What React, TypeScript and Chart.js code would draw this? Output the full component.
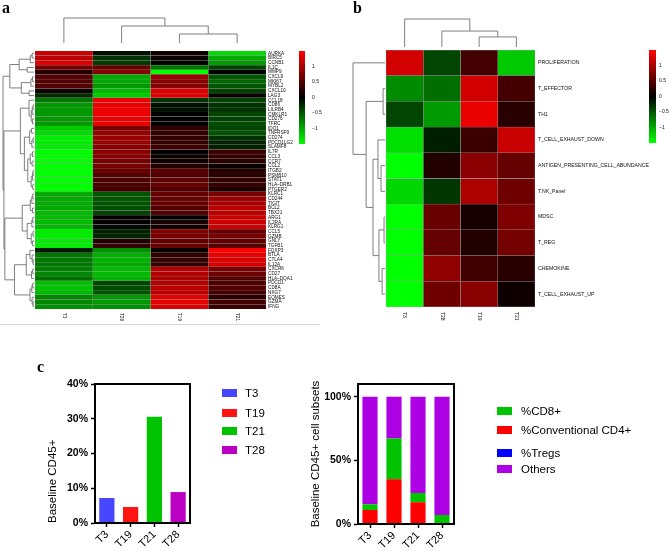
import React, { useEffect, useRef } from 'react';
import Chart from 'chart.js/auto';

// ---------------- DATA ----------------
const GENES = ['AURKA', 'BIRC5', 'CCNB1', 'IL1C', 'MMP9', 'CXCL9', 'MKI67', 'MYBL2', 'CXCL10', 'LAG3',
  'CCL18', 'CD86', 'LILRB4', 'CMKLR1', 'CD276', 'TFRC', 'IDO1', 'TNFRSF9', 'CD274', 'PDCD1LG2', 'SLAMF8',
  'IL7R', 'CCL3', 'CCR7', 'CCL2', 'ITGB2', 'PSMB10', 'STAT1', 'HLA\u2013DRB1', 'PTGER2',
  'KLRC1', 'CD244', 'TIGIT', 'BCL2', 'TBX21', 'ARG1', 'IL2RA', 'KLRG1', 'CCL5', 'GZMB', 'GNLY', 'TGFB1',
  'FOXP3', 'BTLA', 'CTLA4', 'IL12A', 'CXCR6', 'CD27', 'HLA\u2013DQA1', 'PDCD1', 'CD8A', 'NKG7', 'EOMES', 'GZMA', 'IFNG'];
const HEAT_COLUMNS = ['T3', 'T28', 'T19', 'T21'];
const A_T3 = [1.2, 1.1, 1.3, 0.7, 0.2, 0.5, 0.5, 0.5, 0.1, -0.25,
  -0.7, -0.9, -0.9, -0.9, -0.9, -0.9, -1.2, -1.3, -1.4, -1.4, -1.4,
  -1.5, -1.5, -1.5, -1.5, -1.5, -1.5, -1.5, -1.5, -1.5,
  -1.0, -1.0, -1.0, -1.0, -1.1, -1.1, -1.1, -1.1, -1.4, -1.4, -1.4, -1.4,
  -0.15, -0.7, -0.7, -0.7, -0.75, -0.8, -0.65, -1.15, -1.15, -1.1, -0.8, -0.8, -0.85];
const A_T28 = [-0.1, -0.3, -0.35, 0.6, 0.8, -1.0, -1.0, -0.9, -1.1, -1.2,
  1.4, 1.4, 1.4, 1.4, 1.4, 1.35, 0.7, 0.9, 0.9, 0.9, 0.8,
  0.8, 0.8, 0.7, 0.7, 0.6, 0.5, 0.45, 0.45, 0.4,
  -0.5, -0.5, -0.5, -0.45, -0.4, 0.05, 0.0, -0.05, -0.2, -0.2, 0.2, 0.3,
  -0.85, -1.05, -1.05, -1.0, -1.1, -1.1, -1.05, -0.4, -0.45, -0.5, -0.9, -0.9, -0.85];
const A_T19 = [0.1, 0.05, 0.0, -0.7, -1.5, 0.9, 0.8, 0.8, 1.3, 1.3,
  -0.3, -0.1, -0.1, 0.0, 0.0, 0.0, 0.3, 0.3, 0.3, 0.3, 0.4,
  0.0, 0.05, 0.1, 0.2, 0.5, 0.5, 0.55, 0.6, 0.5,
  0.6, 0.6, 0.6, 0.5, 0.5, 0.0, 0.15, 0.1, 0.75, 0.7, 0.6, 0.6,
  0.05, 0.3, 0.3, 0.3, 1.1, 1.05, 1.0, 1.05, 1.1, 1.1, 1.35, 1.35, 1.3];
const A_T21 = [-1.3, -1.0, -0.9, -0.4, 0.0, -0.5, -0.6, -0.5, -0.4, 0.05,
  -0.4, -0.3, -0.3, -0.4, -0.4, -0.45, -0.4, -0.5, -0.3, -0.2, -0.2,
  0.35, 0.3, 0.25, 0.05, 0.2, 0.25, 0.3, 0.3, 0.2,
  0.7, 0.9, 1.0, 1.1, 1.1, 1.2, 1.2, 1.2, 0.6, 0.7, 0.6, 0.5,
  1.5, 1.35, 1.3, 1.25, 0.7, 0.65, 0.5, 0.45, 0.5, 0.4, 0.25, 0.4, 0.35];

type Tree = number | [Tree, Tree, number];
// row dendrogram of panel a: [left, right, merge height]
const ROW_TREE_A: Tree = [
  [[[[0, 1, 0.06], 2, 0.12], [3, 4, 0.22], 0.48], [[[5, 6, 0.05], 7, 0.1], [8, 9, 0.16], 0.41], 0.78],
  [
    [[10, [[[11, 12, 0.03], 13, 0.06], [14, 15, 0.05], 0.09], 0.16],
     [[[16, 17, 0.08], [[18, 19, 0.03], 20, 0.07], 0.14],
      [[[21, 22, 0.05], [23, 24, 0.06], 0.12], [[[25, 26, 0.03], 27, 0.05], [28, 29, 0.04], 0.09], 0.2], 0.31], 0.44],
    [[[[[30, 31, 0.04], 32, 0.07], [33, 34, 0.05], 0.12], [[[35, 36, 0.04], 37, 0.07], [[38, 39, 0.03], [40, 41, 0.05], 0.09], 0.22], 0.38],
     [[[42, [43, [44, 45, 0.03], 0.06], 0.13], [[46, 47, 0.04], 48, 0.08], 0.25],
      [[[49, 50, 0.04], 51, 0.07], [52, [53, 54, 0.03], 0.06], 0.13], 0.63], 0.94],
    0.97],
  1.0];
const COL_TREE_A: Tree = [0, [1, [2, 3, 0.36], 0.68], 1.0];

const SIGNATURES = ['PROLIFERATION', 'T_EFFECTOR', 'TH1', 'T_CELL_EXHAUST_DOWN', 'ANTIGEN_PRESENTING_CELL_ABUNDANCE',
  'T.NK_Panel', 'MDSC', 'T_REG', 'CHEMOKINE', 'T_CELL_EXHAUST_UP'];
const B_T3 = [1.24, -0.82, -0.41, -1.32, -1.5, -1.26, -1.5, -1.5, -1.5, -1.5];
const B_T28 = [-0.41, -0.65, -0.91, -0.18, 0.2, -0.32, 0.62, 0.59, 0.85, 0.65];
const B_T19 = [0.4, 1.24, 1.38, 0.35, 0.82, 1.03, 0.15, 0.2, 0.38, 0.8];
const B_T21 = [-1.18, 0.4, 0.24, 1.18, 0.59, 0.65, 0.74, 0.68, 0.24, 0.09];
const ROW_TREE_B: Tree = [0, [[1, 2, 0.06], [[3, [4, 5, 0.125], 0.22], [[6, 7, 0.03], [8, 9, 0.09], 0.19], 0.375], 0.59], 1.0];
const COL_TREE_B: Tree = [0, [1, [2, 3, 0.36], 0.57], 1.0];

const COLORBAR_TICKS = [1, 0.5, 0, -0.5, -1];
const COLOR_LIMIT = 1.5;

const PATIENTS = ['T3', 'T19', 'T21', 'T28'];
const CD45_PCT = [7.2, 4.6, 30.6, 8.9];
const TREGS = [0, 0, 0, 0];
const CONV_CD4 = [11.0, 35.2, 17.1, 0];
const CD8 = [4.5, 32.0, 7.3, 7.1];
const OTHERS = [84.5, 32.8, 75.6, 92.9];

// ---------------- STYLE ----------------
const SANS = '"Liberation Sans", Arial, Helvetica, sans-serif';
Chart.defaults.font.family = SANS;
Chart.defaults.color = '#000';

function heatColor(v: number) {
  const t = Math.min(1, Math.abs(v) / COLOR_LIMIT);
  const c = Math.round(255 * t);
  return v >= 0 ? `rgb(${c},0,0)` : `rgb(0,${c},0)`;
}

function drawDendro(ctx: CanvasRenderingContext2D, tree: Tree, leafPos: (i: number) => number,
  toPt: (p: number, d: number) => [number, number]) {
  const walk = (n: Tree): [number, number] => {
    if (typeof n === 'number') return [leafPos(n), 0];
    const [a, b, h] = n;
    const [p1, d1] = walk(a);
    const [p2, d2] = walk(b);
    ctx.beginPath();
    let q = toPt(p1, d1); ctx.moveTo(q[0], q[1]);
    q = toPt(p1, h); ctx.lineTo(q[0], q[1]);
    q = toPt(p2, h); ctx.lineTo(q[0], q[1]);
    q = toPt(p2, d2); ctx.lineTo(q[0], q[1]);
    ctx.stroke();
    return [(p1 + p2) / 2, h];
  };
  walk(tree);
}

interface HeatCfg {
  W: number; H: number;
  area: { left: number; top: number; right: number; bottom: number };
  rows: string[]; cols: string[]; columns: number[][];
  rowTree: Tree; colTree: Tree;
  rowDendro: { leafX: number; rootX: number };
  colDendro: { leafY: number; rootY: number };
  colorbar: { x: number; y: number; w: number; h: number; labelX: number };
  rowFont: string; colFont: string; cbFont: string;
  rowGap: number; colGap: number;
  gridColor: string; gridWidth: number;
  divider?: { y: number; x0: number; x1: number };
}

function makeHeatmap(canvas: HTMLCanvasElement, cfg: HeatCfg) {
  const decor = {
    id: 'heatDecor',
    afterDraw(chart: any) {
      const ctx: CanvasRenderingContext2D = chart.ctx;
      const xs = chart.scales.x, ys = chart.scales.y, ca = chart.chartArea;
      ctx.save();
      // row labels
      ctx.fillStyle = '#111';
      ctx.font = cfg.rowFont;
      ctx.textAlign = 'left';
      ctx.textBaseline = 'middle';
      cfg.rows.forEach((r, i) => ctx.fillText(r, ca.right + cfg.rowGap, ys.getPixelForValue(i)));
      // column labels (rotated)
      ctx.font = cfg.colFont;
      cfg.cols.forEach((c, j) => {
        ctx.save();
        ctx.translate(xs.getPixelForValue(j + 0.5), ca.bottom + cfg.colGap);
        ctx.rotate(Math.PI / 2);
        ctx.textAlign = 'left';
        ctx.textBaseline = 'middle';
        ctx.fillText(c, 0, 0);
        ctx.restore();
      });
      // dendrograms
      ctx.strokeStyle = '#707070';
      ctx.lineWidth = 0.9;
      const rd = cfg.rowDendro;
      drawDendro(ctx, cfg.rowTree, (i) => ys.getPixelForValue(i),
        (p, d) => [rd.leafX - d * (rd.leafX - rd.rootX), p]);
      const cd = cfg.colDendro;
      drawDendro(ctx, cfg.colTree, (j) => xs.getPixelForValue(j + 0.5),
        (p, d) => [p, cd.leafY - d * (cd.leafY - cd.rootY)]);
      // colour bar
      const cb = cfg.colorbar;
      const g = ctx.createLinearGradient(0, cb.y, 0, cb.y + cb.h);
      g.addColorStop(0, heatColor(COLOR_LIMIT));
      g.addColorStop(0.5, heatColor(0));
      g.addColorStop(1, heatColor(-COLOR_LIMIT));
      ctx.fillStyle = g;
      ctx.fillRect(cb.x, cb.y, cb.w, cb.h);
      ctx.fillStyle = '#111';
      ctx.font = cfg.cbFont;
      ctx.textAlign = 'left';
      ctx.textBaseline = 'middle';
      COLORBAR_TICKS.forEach((v) => {
        const y = cb.y + ((COLOR_LIMIT - v) / (2 * COLOR_LIMIT)) * cb.h;
        const txt = v === 0 ? '0' : v < 0 ? '\u2212' + Math.abs(v) : String(v);
        ctx.fillText(txt, cb.labelX, y);
      });
      if (cfg.divider) {
        ctx.strokeStyle = '#d6d6d6';
        ctx.lineWidth = 1;
        ctx.beginPath();
        ctx.moveTo(cfg.divider.x0, cfg.divider.y + 0.5);
        ctx.lineTo(cfg.divider.x1, cfg.divider.y + 0.5);
        ctx.stroke();
      }
      ctx.restore();
    },
  };
  return new Chart(canvas, {
    type: 'bar',
    data: {
      labels: cfg.rows,
      datasets: cfg.columns.map((vals, j) => ({
        label: cfg.cols[j],
        data: cfg.rows.map(() => 1),
        backgroundColor: vals.map(heatColor),
        borderColor: cfg.gridColor,
        borderWidth: cfg.gridWidth,
        borderSkipped: false,
        barPercentage: 1,
        categoryPercentage: 1,
      })),
    },
    options: {
      indexAxis: 'y',
      responsive: false,
      animation: false,
      events: [],
      layout: {
        padding: {
          left: cfg.area.left, top: cfg.area.top,
          right: cfg.W - cfg.area.right, bottom: cfg.H - cfg.area.bottom,
        },
      },
      plugins: { legend: { display: false }, tooltip: { enabled: false } },
      scales: {
        x: { type: 'linear', stacked: true, min: 0, max: cfg.cols.length, display: false },
        y: { stacked: true, display: false },
      },
    },
    plugins: [decor],
  } as any);
}

const boxPlugin = {
  id: 'prismBox',
  afterDraw(chart: any) {
    const { ctx, chartArea: ca } = chart;
    ctx.save();
    ctx.strokeStyle = '#000';
    ctx.lineWidth = 2;
    ctx.strokeRect(ca.left, ca.top, ca.right - ca.left, ca.bottom - ca.top);
    ctx.restore();
  },
};

function legendPlugin(getItems: (chart: any) => { label: string; color: string }[],
  pos: { x: number; textX: number; ys: number[] }) {
  return {
    id: 'sideLegend',
    afterDraw(chart: any) {
      const ctx: CanvasRenderingContext2D = chart.ctx;
      ctx.save();
      ctx.font = `11.5px ${SANS}`;
      ctx.textAlign = 'left';
      ctx.textBaseline = 'middle';
      getItems(chart).forEach((it, i) => {
        const y = pos.ys[i];
        ctx.fillStyle = it.color;
        ctx.fillRect(pos.x, y - 4, 15, 8);
        ctx.fillStyle = '#000';
        ctx.fillText(it.label, pos.textX, y + 0.5);
      });
      ctx.restore();
    },
  };
}

function axisCommon() {
  return {
    grid: { display: true, drawOnChartArea: false, drawTicks: true, tickLength: 4, tickColor: '#000', tickWidth: 1.5, offset: false },
    border: { display: true, color: '#000', width: 2 },
  };
}

const LEFT_COLORS = ['#4646ff', '#ff1414', '#00c400', '#bb00c4'];
const SUBSET_COLORS = { tregs: '#0000ff', cd4: '#ff0000', cd8: '#00c400', others: '#ad00e4' };

function makeCD45(canvas: HTMLCanvasElement) {
  return new Chart(canvas, {
    type: 'bar',
    data: {
      labels: PATIENTS,
      datasets: [{
        label: 'Baseline CD45+',
        data: CD45_PCT,
        backgroundColor: LEFT_COLORS,
        borderWidth: 0,
        barPercentage: 0.64,
        categoryPercentage: 1,
      }],
    },
    options: {
      responsive: false,
      animation: false,
      events: [],
      layout: { padding: { left: 42, top: 44, right: 100, bottom: 0 } },
      plugins: { legend: { display: false }, tooltip: { enabled: false } },
      scales: {
        x: {
          ...axisCommon(),
          ticks: { font: { size: 11 }, color: '#000', minRotation: 45, maxRotation: 45, autoSkip: false, padding: 1 },
          afterFit: (s: any) => { s.height = 28; },
        },
        y: {
          ...axisCommon(),
          min: 0, max: 40,
          ticks: { stepSize: 10, callback: (v: any) => v + '%', font: { size: 10.5, weight: 'bold' }, color: '#000', padding: 3 },
          title: { display: true, text: 'Baseline CD45+', align: 'start', font: { size: 11.5 }, color: '#000' },
          afterFit: (s: any) => { s.width = 53; },
        },
      },
    },
    plugins: [boxPlugin, legendPlugin((ch) => ch.data.labels.map((l: string, i: number) => ({
      label: l, color: ch.data.datasets[0].backgroundColor[i],
    })), { x: 222, textX: 245, ys: [53, 73, 91, 110] })],
  } as any);
}

function makeSubsets(canvas: HTMLCanvasElement) {
  const common = { borderWidth: 0, barPercentage: 0.63, categoryPercentage: 1 };
  return new Chart(canvas, {
    type: 'bar',
    data: {
      labels: PATIENTS,
      datasets: [
        { label: '%Tregs', data: TREGS, backgroundColor: SUBSET_COLORS.tregs, ...common },
        { label: '%Conventional CD4+', data: CONV_CD4, backgroundColor: SUBSET_COLORS.cd4, ...common },
        { label: '%CD8+', data: CD8, backgroundColor: SUBSET_COLORS.cd8, ...common },
        { label: 'Others', data: OTHERS, backgroundColor: SUBSET_COLORS.others, ...common },
      ],
    },
    options: {
      responsive: false,
      animation: false,
      events: [],
      layout: { padding: { left: 15, top: 44, right: 217, bottom: 0 } },
      plugins: { legend: { display: false }, tooltip: { enabled: false } },
      scales: {
        x: {
          ...axisCommon(),
          stacked: true,
          ticks: { font: { size: 11 }, color: '#000', minRotation: 45, maxRotation: 45, autoSkip: false, padding: 1 },
          afterFit: (s: any) => { s.height = 27; },
        },
        y: {
          ...axisCommon(),
          stacked: true,
          min: 0, max: 110,
          ticks: { stepSize: 50, includeBounds: false, callback: (v: any) => v + '%', font: { size: 10.5, weight: 'bold' }, color: '#000', padding: 3 },
          title: { display: true, text: 'Baseline CD45+ cell subsets', font: { size: 11.5 }, color: '#000' },
          afterFit: (s: any) => { s.width = 53; },
        },
      },
    },
    plugins: [boxPlugin, legendPlugin((ch) => ['%CD8+', '%Conventional CD4+', '%Tregs', 'Others'].map((name) => {
      const ds = ch.data.datasets.find((d: any) => d.label === name);
      return { label: name, color: ds.backgroundColor };
    }), { x: 207, textX: 231, ys: [71, 90, 113, 129] })],
  } as any);
}

const panelLabel = (left: number, top: number): React.CSSProperties => ({
  position: 'absolute', left, top, font: 'bold 16px "Liberation Serif", "DejaVu Serif", serif',
  lineHeight: '16px', color: '#000',
});

export default function App() {
  const aRef = useRef<HTMLCanvasElement>(null);
  const bRef = useRef<HTMLCanvasElement>(null);
  const c1Ref = useRef<HTMLCanvasElement>(null);
  const c2Ref = useRef<HTMLCanvasElement>(null);

  useEffect(() => {
    const charts: Chart[] = [];
    charts.push(makeHeatmap(aRef.current!, {
      W: 338, H: 335,
      area: { left: 35, top: 51, right: 266, bottom: 309 },
      rows: GENES, cols: HEAT_COLUMNS, columns: [A_T3, A_T28, A_T19, A_T21],
      rowTree: ROW_TREE_A, colTree: COL_TREE_A,
      rowDendro: { leafX: 34, rootX: 3 },
      colDendro: { leafY: 43, rootY: 18 },
      colorbar: { x: 299, y: 51, w: 6, h: 93, labelX: 312 },
      rowFont: `4.7px ${SANS}`, colFont: `4.7px ${SANS}`, cbFont: `5px ${SANS}`,
      rowGap: 2, colGap: 4,
      gridColor: 'rgba(150,150,150,0.85)', gridWidth: 0.4,
      divider: { y: 324, x0: 0, x1: 320 },
    }));
    charts.push(makeHeatmap(bRef.current!, {
      W: 331, H: 335,
      area: { left: 46, top: 50, right: 195, bottom: 307 },
      rows: SIGNATURES, cols: HEAT_COLUMNS, columns: [B_T3, B_T28, B_T19, B_T21],
      rowTree: ROW_TREE_B, colTree: COL_TREE_B,
      rowDendro: { leafX: 45, rootX: 13 },
      colDendro: { leafY: 47, rootY: 19 },
      colorbar: { x: 309, y: 50, w: 7, h: 93, labelX: 319 },
      rowFont: `5.2px ${SANS}`, colFont: `5px ${SANS}`, cbFont: `5px ${SANS}`,
      rowGap: 3, colGap: 5,
      gridColor: 'rgba(150,150,150,0.9)', gridWidth: 0.5,
    }));
    charts.push(makeCD45(c1Ref.current!));
    charts.push(makeSubsets(c2Ref.current!));
    return () => charts.forEach((c) => c.destroy());
  }, []);

  const cv = (left: number, top: number, w: number, h: number): React.CSSProperties => ({
    position: 'absolute', left, top, width: w, height: h,
  });

  return (
    <div style={{ position: 'absolute', left: 0, top: 0, width: 671, height: 551, background: '#fff', overflow: 'hidden' }}>
      <canvas ref={aRef} width={338} height={335} style={cv(0, 0, 338, 335)} />
      <canvas ref={bRef} width={331} height={335} style={cv(340, 0, 331, 335)} />
      <canvas ref={c1Ref} width={290} height={211} style={cv(0, 340, 290, 211)} />
      <canvas ref={c2Ref} width={381} height={211} style={cv(290, 340, 381, 211)} />
      <span style={panelLabel(2, 0)}>a</span>
      <span style={panelLabel(353, 0)}>b</span>
      <span style={panelLabel(37, 359)}>c</span>
    </div>
  );
}
